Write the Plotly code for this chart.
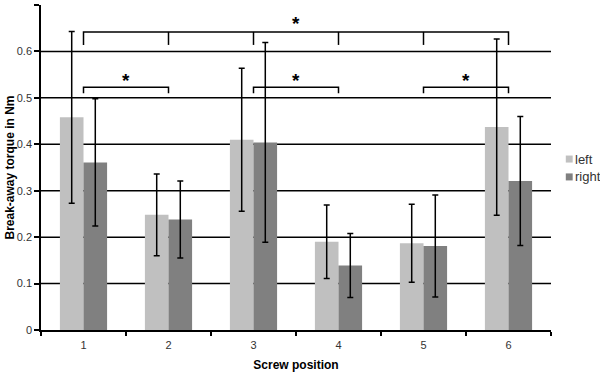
import plotly.graph_objects as go

categories = ["1", "2", "3", "4", "5", "6"]
series_names = ["left", "right"]
left_vals = [0.458, 0.248, 0.410, 0.190, 0.187, 0.437]
left_err = [0.185, 0.088, 0.154, 0.079, 0.084, 0.190]
right_vals = [0.361, 0.238, 0.404, 0.139, 0.181, 0.321]
right_err = [0.137, 0.083, 0.215, 0.069, 0.110, 0.139]
grid_vals = [0.1, 0.2, 0.3, 0.4, 0.5, 0.6]
y_ticks = [0, 0.1, 0.2, 0.3, 0.4, 0.5, 0.6, 0.7]

# significance brackets
top_bracket = dict(x0=0, x1=5, y=0.642, leg=0.614, inner=[1, 2, 3, 4], star_y=0.668)
pair_brackets = [(0, 1), (2, 3), (4, 5)]
pair_y = 0.523
pair_leg = 0.510
pair_star_y = 0.547

COLORS = ["#c0c0c0", "#808080"]

fig = go.Figure()
for name, vals, errs, col in zip(series_names, [left_vals, right_vals],
                                 [left_err, right_err], COLORS):
    fig.add_trace(go.Bar(x=categories, y=vals, name=name, marker_color=col,
                         marker_line_width=0, showlegend=False,
                         error_y=dict(type="data", array=errs, color="black",
                                      thickness=1.5, width=3)))

shapes = []
for g in grid_vals:
    shapes.append(dict(type="line", xref="paper", yref="y", x0=0, x1=1, y0=g, y1=g,
                       line=dict(color="black", width=1.5), layer="below"))

line_style = dict(color="black", width=1.5)
tb = top_bracket
shapes.append(dict(type="path", xref="x", yref="y",
                   path=f"M {tb['x0']},{tb['leg']} L {tb['x0']},{tb['y']} L {tb['x1']},{tb['y']} L {tb['x1']},{tb['leg']}",
                   line=line_style))
for i in tb["inner"]:
    shapes.append(dict(type="line", xref="x", yref="y", x0=i, x1=i, y0=tb["y"], y1=tb["leg"],
                       line=line_style))
for a, b in pair_brackets:
    shapes.append(dict(type="path", xref="x", yref="y",
                       path=f"M {a},{pair_leg} L {a},{pair_y} L {b},{pair_y} L {b},{pair_leg}",
                       line=line_style))

star_font = dict(size=19, color="black", family="Liberation Sans, Arial")
annotations = [dict(x=(tb["x0"] + tb["x1"]) / 2, y=tb["star_y"], xref="x", yref="y",
                    text="<b>*</b>", showarrow=False, yanchor="middle", yshift=-4,
                    font=star_font)]
for a, b in pair_brackets:
    annotations.append(dict(x=(a + b) / 2, y=pair_star_y, xref="x", yref="y",
                            text="<b>*</b>", showarrow=False, yanchor="middle", yshift=-4,
                            font=star_font))

# legend (small keys placed close to the labels, as in the original)
legend_y = [0.526, 0.471]
key_half = 0.0108
for name, col, ly in zip(series_names, COLORS, legend_y):
    shapes.append(dict(type="rect", xref="paper", yref="paper",
                       x0=1.029, x1=1.0425, y0=ly - key_half, y1=ly + key_half,
                       fillcolor=col, line=dict(width=0)))
    annotations.append(dict(x=1.043, y=ly, xref="paper", yref="paper", text=name,
                            showarrow=False, xanchor="left", yanchor="middle",
                            font=dict(size=13, color="#333333",
                                      family="Liberation Sans, Arial")))

fig.update_layout(
    width=600, height=372,
    margin=dict(l=41, r=49, t=5, b=42, autoexpand=False),
    paper_bgcolor="white", plot_bgcolor="white",
    barmode="group", bargap=0.445, bargroupgap=0,
    font=dict(family="Liberation Sans, Arial", size=11, color="#333333"),
    shapes=shapes, annotations=annotations, showlegend=False,
    xaxis=dict(type="category", showline=True, linecolor="black", linewidth=1.5,
               ticks="outside", tickson="boundaries", ticklen=4, tickcolor="black",
               tickwidth=1.5, showgrid=False, automargin=False, ticklabelstandoff=4,
               title=dict(text="<b>Screw position</b>", standoff=14,
                          font=dict(size=12, color="black"))),
    yaxis=dict(range=[0, 0.7], tickvals=y_ticks, ticktext=[f"{v:g}" for v in y_ticks],
               showline=True, linecolor="black", linewidth=1.5, ticks="outside",
               ticklen=5, tickcolor="black", tickwidth=1.5, showgrid=False,
               zeroline=False, automargin=False,
               title=dict(text="<b>Break-away torque in Nm</b>", standoff=0,
                          font=dict(size=12, color="black"))),
)

fig.write_html("out.html", config={"displayModeBar": False},
               post_script="document.body.style.margin='0px';")
